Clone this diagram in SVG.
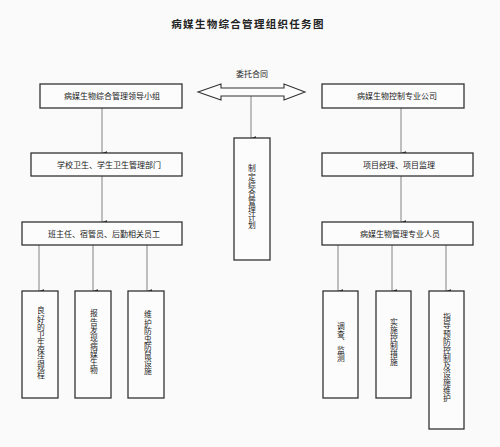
<svg xmlns="http://www.w3.org/2000/svg" width="500" height="447" viewBox="0 0 500 447">
<defs>
<style>
.bx{fill:#fcfcfc;stroke:#333;stroke-width:1.3}
.ln{fill:none;stroke:#666;stroke-width:0.8}
.t{font-family:"Noto Sans CJK SC","Noto Sans",sans-serif;font-size:8px;fill:#222;text-anchor:middle}
.v{font-family:"Noto Sans CJK SC","Noto Sans",sans-serif;font-size:7.8px;fill:#222;text-anchor:middle;writing-mode:vertical-rl;text-orientation:upright;letter-spacing:0.3px}
.title{font-family:"Noto Sans CJK SC","Noto Sans",sans-serif;font-size:10.5px;font-weight:bold;fill:#222;text-anchor:middle;letter-spacing:1.3px}
</style>
<marker id="ar" viewBox="0 0 6 8" refX="3" refY="8" markerWidth="4" markerHeight="5" orient="auto-start-reverse" markerUnits="userSpaceOnUse">
<path d="M0,0 L6,0 L3,8 Z" fill="#222"/>
</marker>
</defs>
<rect width="500" height="447" fill="#fafafa"/>
<text class="title" x="248" y="28">病媒生物综合管理组织任务图</text>

<g id="connectors">
<line class="ln" x1="102" y1="108" x2="102" y2="153" marker-end="url(#ar)"/>
<line class="ln" x1="102" y1="176" x2="102" y2="222" marker-end="url(#ar)"/>
<line class="ln" x1="39" y1="245" x2="39" y2="291" marker-end="url(#ar)"/>
<line class="ln" x1="93" y1="245" x2="93" y2="291" marker-end="url(#ar)"/>
<line class="ln" x1="147" y1="245" x2="147" y2="291" marker-end="url(#ar)"/>
<line class="ln" x1="251" y1="96" x2="251" y2="138" marker-end="url(#ar)"/>
<line class="ln" x1="401" y1="108" x2="401" y2="153" marker-end="url(#ar)"/>
<line class="ln" x1="401" y1="176" x2="401" y2="222" marker-end="url(#ar)"/>
<line class="ln" x1="338" y1="245" x2="338" y2="291" marker-end="url(#ar)"/>
<line class="ln" x1="392" y1="245" x2="392" y2="291" marker-end="url(#ar)"/>
<line class="ln" x1="446" y1="245" x2="446" y2="291" marker-end="url(#ar)"/>
</g>

<g id="contract">
<polygon points="198,92 221,84 221,88 284,88 284,84 305,92 284,100 284,96 221,96 221,100" fill="#fcfcfc" stroke="#333" stroke-width="1.1"/>
<text class="t" x="252" y="77">委托合同</text>
</g>

<g id="leader">
<rect class="bx" x="40" y="84" width="142" height="24"/>
<text class="t" x="112" y="99">病媒生物综合管理领导小组</text>
</g>
<g id="school">
<rect class="bx" x="31" y="153" width="151" height="23"/>
<text class="t" x="109" y="168">学校卫生、学生卫生管理部门</text>
</g>
<g id="staff">
<rect class="bx" x="22" y="222" width="160" height="23"/>
<text class="t" x="104" y="237">班主任、宿管员、后勤相关员工</text>
</g>
<g id="l1">
<rect class="bx" x="22" y="291" width="36" height="107"/>
<text class="v" x="41" y="343">良好的卫生保洁规程</text>
</g>
<g id="l2">
<rect class="bx" x="75" y="291" width="36" height="107"/>
<text class="v" x="94" y="342">报告发现病媒生物</text>
</g>
<g id="l3">
<rect class="bx" x="128" y="291" width="36" height="107"/>
<text class="v" x="148" y="343">维护防虫防鼠设施</text>
</g>
<g id="plan">
<rect class="bx" x="234" y="138" width="36" height="122"/>
<text class="v" x="252" y="197">制定综合管理计划</text>
</g>
<g id="company">
<rect class="bx" x="322" y="84" width="142" height="24"/>
<text class="t" x="397" y="99">病媒生物控制专业公司</text>
</g>
<g id="manager">
<rect class="bx" x="322" y="153" width="151" height="23"/>
<text class="t" x="399" y="168">项目经理、项目监理</text>
</g>
<g id="pro">
<rect class="bx" x="322" y="222" width="151" height="23"/>
<text class="t" x="400" y="237">病媒生物管理专业人员</text>
</g>
<g id="r1">
<rect class="bx" x="323" y="291" width="35" height="107"/>
<text class="v" x="341" y="342">调查、监测</text>
</g>
<g id="r2">
<rect class="bx" x="376" y="291" width="35" height="107"/>
<text class="v" x="394" y="342">实施控制措施</text>
</g>
<g id="r3">
<rect class="bx" x="429" y="291" width="35" height="138"/>
<text class="v" x="447" y="358">指导预防控制及设施维护</text>
</g>
</svg>
